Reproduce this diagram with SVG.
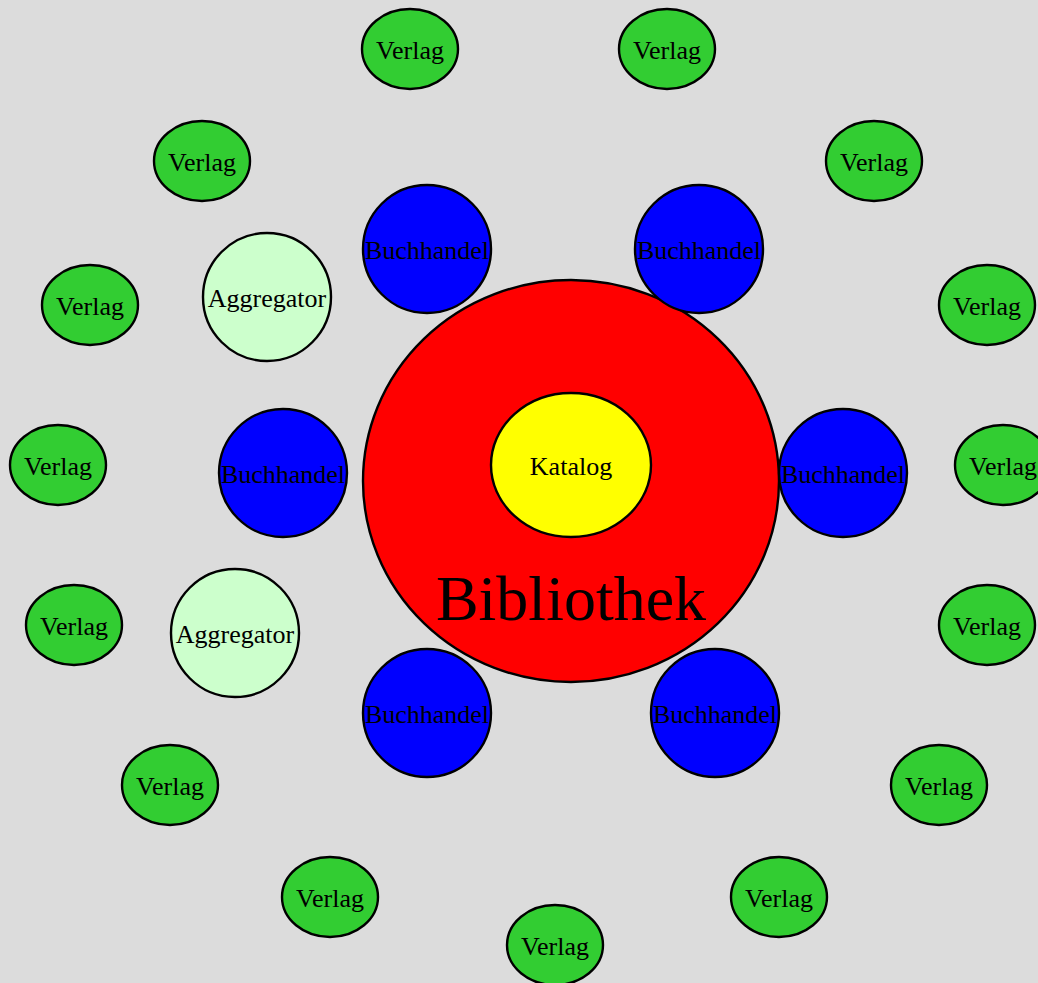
<svg xmlns="http://www.w3.org/2000/svg" width="1038" height="983" viewBox="0 0 1038 983">
<style>
text{font-family:"Liberation Serif","Times New Roman",serif;font-size:26px;text-anchor:middle;fill:#000}
.v{fill:#32cd32;stroke:#000;stroke-width:2.4}
.b{fill:#0000ff;stroke:#000;stroke-width:2.4}
.a{fill:#ccffcc;stroke:#000;stroke-width:2.4}
.lib{fill:#ff0000;stroke:#000;stroke-width:2.4}
.kat{fill:#ffff00;stroke:#000;stroke-width:2.4}
</style>
<rect width="1038" height="983" fill="#dcdcdc"/>
<g id="connectors"/>
<g id="bibliothek"><ellipse class="lib" cx="571" cy="481" rx="208" ry="201"/><text x="571" y="620" style="font-size:64px">Bibliothek</text></g>
<g id="katalog"><ellipse class="kat" cx="571" cy="465" rx="80" ry="72"/><text x="571" y="475">Katalog</text></g>
<g id="buch1"><circle class="b" cx="427" cy="249" r="64"/><text x="427" y="259">Buchhandel</text></g>
<g id="buch2"><circle class="b" cx="699" cy="249" r="64"/><text x="699" y="259">Buchhandel</text></g>
<g id="buch3"><circle class="b" cx="283" cy="473" r="64"/><text x="283" y="483">Buchhandel</text></g>
<g id="buch4"><circle class="b" cx="843" cy="473" r="64"/><text x="843" y="483">Buchhandel</text></g>
<g id="buch5"><circle class="b" cx="427" cy="713" r="64"/><text x="427" y="723">Buchhandel</text></g>
<g id="buch6"><circle class="b" cx="715" cy="713" r="64"/><text x="715" y="723">Buchhandel</text></g>
<g id="agg1"><circle class="a" cx="267" cy="297" r="64"/><text x="267" y="307">Aggregator</text></g>
<g id="agg2"><circle class="a" cx="235" cy="633" r="64"/><text x="235" y="643">Aggregator</text></g>
<g id="verlag1"><ellipse class="v" cx="410" cy="49" rx="48" ry="40"/><text x="410" y="59">Verlag</text></g>
<g id="verlag2"><ellipse class="v" cx="667" cy="49" rx="48" ry="40"/><text x="667" y="59">Verlag</text></g>
<g id="verlag3"><ellipse class="v" cx="202" cy="161" rx="48" ry="40"/><text x="202" y="171">Verlag</text></g>
<g id="verlag4"><ellipse class="v" cx="874" cy="161" rx="48" ry="40"/><text x="874" y="171">Verlag</text></g>
<g id="verlag5"><ellipse class="v" cx="90" cy="305" rx="48" ry="40"/><text x="90" y="315">Verlag</text></g>
<g id="verlag6"><ellipse class="v" cx="987" cy="305" rx="48" ry="40"/><text x="987" y="315">Verlag</text></g>
<g id="verlag7"><ellipse class="v" cx="58" cy="465" rx="48" ry="40"/><text x="58" y="475">Verlag</text></g>
<g id="verlag8"><ellipse class="v" cx="1003" cy="465" rx="48" ry="40"/><text x="1003" y="475">Verlag</text></g>
<g id="verlag9"><ellipse class="v" cx="74" cy="625" rx="48" ry="40"/><text x="74" y="635">Verlag</text></g>
<g id="verlag10"><ellipse class="v" cx="987" cy="625" rx="48" ry="40"/><text x="987" y="635">Verlag</text></g>
<g id="verlag11"><ellipse class="v" cx="170" cy="785" rx="48" ry="40"/><text x="170" y="795">Verlag</text></g>
<g id="verlag12"><ellipse class="v" cx="939" cy="785" rx="48" ry="40"/><text x="939" y="795">Verlag</text></g>
<g id="verlag13"><ellipse class="v" cx="330" cy="897" rx="48" ry="40"/><text x="330" y="907">Verlag</text></g>
<g id="verlag14"><ellipse class="v" cx="779" cy="897" rx="48" ry="40"/><text x="779" y="907">Verlag</text></g>
<g id="verlag15"><ellipse class="v" cx="555" cy="945" rx="48" ry="40"/><text x="555" y="955">Verlag</text></g>
</svg>
